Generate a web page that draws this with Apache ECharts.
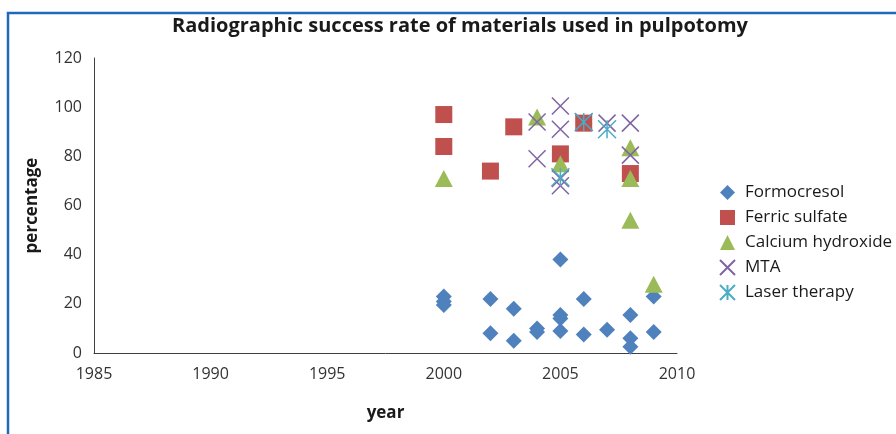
<!DOCTYPE html>
<html><head><meta charset="utf-8">
<script src="https://cdn.jsdelivr.net/npm/echarts@6/dist/echarts.min.js"></script>
<style>html,body{margin:0;padding:0;background:#fff}#c{width:896px;height:434px}</style>
</head><body><div id="c"></div>
<script>
const titleText = 'Radiographic success rate of materials used in pulpotomy';
const seriesNames = ['Formocresol','Ferric sulfate','Calcium hydroxide','MTA','Laser therapy'];
const formocresol = [[2000,23],[2000,21],[2000,19.5],[2002,22],[2002,8],[2003,18],[2003,5],[2004,10],[2004,8.5],[2005,38],[2005,15.5],[2005,14],[2005,9],[2006,22],[2006,7.5],[2007,9.5],[2008,15.5],[2008,6],[2008,2.5],[2009,23],[2009,8.5]];
const ferricSulfate = [[2000,97],[2000,84],[2002,74],[2003,92],[2005,81],[2006,93.5],[2008,73]];
const calciumHydroxide = [[2000,71],[2004,96],[2005,77],[2008,83.5],[2008,71],[2008,54],[2009,28]];
const mta = [[2004,94],[2004,79],[2005,100.5],[2005,91],[2005,71],[2005,68],[2006,94],[2007,93.5],[2008,93.5],[2008,80.5]];
const laserTherapy = [[2005,71.5],[2006,94],[2007,91]];
const xTicks = [1985,1990,1995,2000,2005,2010];
const yTicks = [0,20,40,60,80,100,120];

const font = "'Open Sans', sans-serif";
const chart = echarts.init(document.getElementById('c'));
chart.setOption({
  animation:false,
  backgroundColor:'#fff',
  title:{text:titleText,left:167,top:11,textStyle:{fontFamily:font,fontSize:20,fontWeight:'bold',color:'#1a1a1a'}},
  graphic:[{type:'polyline',shape:{points:[[8,440],[8,13],[900,13]]},style:{stroke:'#2068B8',lineWidth:2.5,fill:null},silent:true}],
  grid:{left:94,right:219,top:58,bottom:81,containLabel:false},
  legend:{orient:'vertical',left:714,top:179,itemWidth:15,itemHeight:15,itemGap:8,
    textStyle:{fontFamily:font,fontSize:17,color:'#1a1a1a',padding:[0,0,0,5]},data:seriesNames},
  xAxis:{type:'value',min:xTicks[0],max:xTicks[xTicks.length-1],interval:5,
    name:'year',nameLocation:'middle',nameGap:52,nameTextStyle:{fontFamily:font,fontSize:17,fontWeight:'bold',color:'#1a1a1a'},
    axisLine:{lineStyle:{color:'#404040',width:1}},axisTick:{show:false},splitLine:{show:false},
    axisLabel:{fontFamily:font,fontSize:16,color:'#333',margin:13,formatter:v=>String(v)}},
  yAxis:{type:'value',min:yTicks[0],max:yTicks[yTicks.length-1],interval:20,
    name:'percentage',nameLocation:'middle',nameGap:53,nameRotate:90,nameTextStyle:{fontFamily:font,fontSize:17,fontWeight:'bold',color:'#1a1a1a'},
    axisLine:{show:true,lineStyle:{color:'#404040',width:1}},axisTick:{show:false},splitLine:{show:false},
    axisLabel:{fontFamily:font,fontSize:16,color:'#333',margin:12}},
  series:[
    {name:seriesNames[0],type:'scatter',data:formocresol,symbol:'diamond',symbolSize:16,itemStyle:{color:'#4F81BD',opacity:1}},
    {name:seriesNames[1],type:'scatter',data:ferricSulfate,symbol:'rect',symbolSize:17,itemStyle:{color:'#C0504D',opacity:1}},
    {name:seriesNames[2],type:'scatter',data:calciumHydroxide,symbol:'triangle',symbolSize:[18,17],itemStyle:{color:'#9BBB59',opacity:1}},
    {name:seriesNames[3],type:'scatter',data:mta,symbol:'path://M0,0L10,10M10,0L0,10',symbolSize:17,itemStyle:{color:'transparent',borderColor:'#8064A2',borderWidth:1.5,opacity:1}},
    {name:seriesNames[4],type:'scatter',data:laserTherapy,symbol:'path://M0,0L10,10M10,0L0,10M5,0L5,10',symbolSize:18,itemStyle:{color:'transparent',borderColor:'#4BACC6',borderWidth:1.5,opacity:1}}
  ]
});
</script></body></html>
